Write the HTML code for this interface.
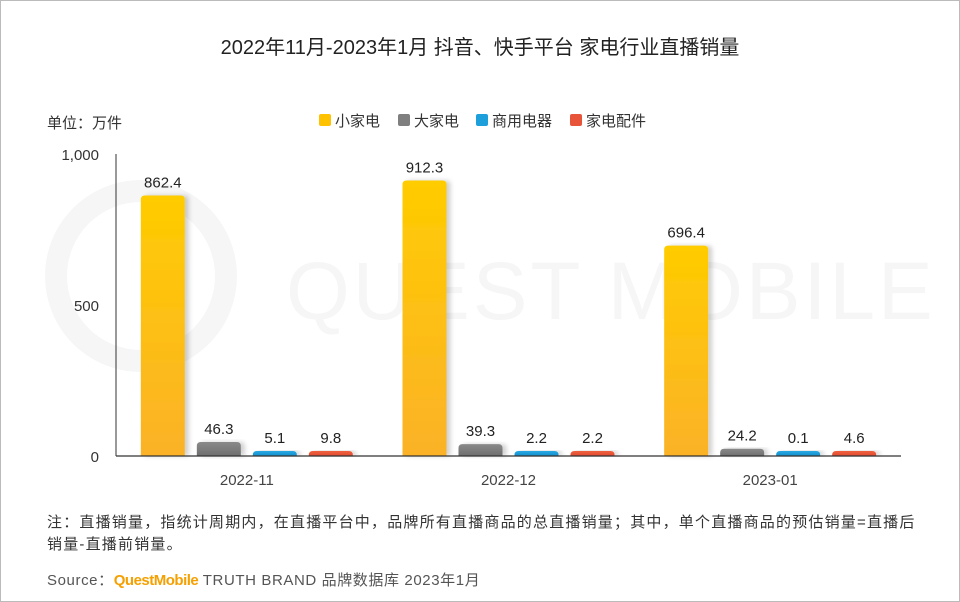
<!DOCTYPE html>
<html><head><meta charset="utf-8"><style>
body{margin:0;background:#fff}
#wrap{position:relative;width:958px;height:600px;border:1px solid #bbb;overflow:hidden;font-family:"Liberation Sans","Noto Sans CJK SC",sans-serif;color:#333}
.t{position:absolute;white-space:nowrap}
</style></head><body>
<div id="wrap">
<div class="t" style="left:0;width:958px;text-align:center;top:30px;font-size:20px;color:#222">2022年11月-2023年1月 抖音、快手平台 家电行业直播销量</div>
<div class="t" style="left:46px;top:111px;font-size:15px">单位：万件</div>
<div class="t" style="left:46px;top:511px;font-size:15px;line-height:22px;letter-spacing:1.2px">注：直播销量，指统计周期内，在直播平台中，品牌所有直播商品的总直播销量；其中，单个直播商品的预估销量=直播后<br>销量-直播前销量。</div>
<div class="t" style="left:46px;top:568px;font-size:15px;color:#555;letter-spacing:0.6px">Source：<span style="color:#f5a000;font-weight:bold;letter-spacing:-0.5px">QuestMobile</span> TRUTH BRAND 品牌数据库 2023年1月</div>
<svg id="svg" width="958" height="600" style="position:absolute;left:0;top:0">
<defs>
<linearGradient id="gy" x1="0" y1="0" x2="0" y2="1"><stop offset="0" stop-color="#ffcc00"/><stop offset="1" stop-color="#fbb228"/></linearGradient>
<linearGradient id="gg" x1="0" y1="0" x2="0" y2="1"><stop offset="0" stop-color="#8a8a8a"/><stop offset="1" stop-color="#6e6e6e"/></linearGradient>
<linearGradient id="gb" x1="0" y1="0" x2="0" y2="1"><stop offset="0" stop-color="#26a8e4"/><stop offset="1" stop-color="#1590cc"/></linearGradient>
<linearGradient id="gr" x1="0" y1="0" x2="0" y2="1"><stop offset="0" stop-color="#f0603e"/><stop offset="1" stop-color="#e04a30"/></linearGradient>
<filter id="sh" x="-20%" y="-20%" width="150%" height="140%"><feDropShadow dx="4" dy="0" stdDeviation="2.5" flood-color="#000" flood-opacity="0.18"/></filter>
</defs>
<text x="285" y="318" font-size="82" fill="#f6f6f6" font-family="Liberation Sans" letter-spacing="3">QUEST MOBILE</text>
<circle cx="140" cy="275" r="85" fill="none" stroke="#f6f6f6" stroke-width="22"/>
<g id="g"></g>
</svg>
</div>
<script>
const categories=["2022-11","2022-12","2023-01"];
const seriesNames=["小家电","大家电","商用电器","家电配件"];
const small=[862.4,912.3,696.4];
const large=[46.3,39.3,24.2];
const commercial=[5.1,2.2,0.1];
const parts=[9.8,2.2,4.6];
const yTicks=[0,500,1000];
const yTickLabels=["0","500","1,000"];
const series=[small,large,commercial,parts];
const fills=["url(#gy)","url(#gg)","url(#gb)","url(#gr)"];
const legendColors=["#ffc200","#7f7f7f","#1d9fdc","#e8543a"];
const NS="http://www.w3.org/2000/svg",g=document.getElementById('g');
const x0=115,x1=900,y0=455,yTop=153,yMax=1000;
const y=v=>y0-(v/yMax)*(y0-yTop);
const gw=(x1-x0)/categories.length;
const xc=i=>x0+gw*(i+0.5);
function mk(t,a,txt){const e=document.createElementNS(NS,t);for(const k in a)e.setAttribute(k,a[k]);if(txt!=null)e.textContent=txt;g.appendChild(e);return e;}
let e=mk('line',{x1:x0,y1:yTop,x2:x0,y2:y0,stroke:'#333','stroke-width':1});


yTicks.forEach((t,i)=>{const l=mk('text',{x:x0-17,y:y(t)+6,'text-anchor':'end','font-size':15,fill:'#333'},yTickLabels[i]);

});
const bw=44,gap=12;
categories.forEach((c,i)=>{
 series.forEach((s,j)=>{
  const bx=xc(i)-2*bw-1.5*gap+j*(bw+gap);
  const v=s[i];const top=Math.min(y(v),y0-5);
  const r=mk('path',{d:`M${bx},${y0}V${top+4}Q${bx},${top} ${bx+4},${top}H${bx+bw-4}Q${bx+bw},${top} ${bx+bw},${top+4}V${y0}Z`,fill:fills[j],filter:'url(#sh)'});
  
  
  const l=mk('text',{x:bx+bw/2,y:top-8,'text-anchor':'middle','font-size':15,fill:'#222'},v.toFixed(1));
  
  
 });
 const l=mk('text',{x:xc(i),y:484,'text-anchor':'middle','font-size':15,fill:'#444'},c);
 
 
});
e=mk('line',{x1:x0,y1:y0,x2:x1,y2:y0,stroke:'#333','stroke-width':1.2});


const lx=[318,397,475,569];
seriesNames.forEach((n,j)=>{
 const r=mk('rect',{x:lx[j],y:113,width:12,height:12,rx:2,fill:legendColors[j]});
 
 
 const t=mk('text',{x:lx[j]+16,y:125,'font-size':15,fill:'#333'},n);
 
 
});
</script>
</body></html>
